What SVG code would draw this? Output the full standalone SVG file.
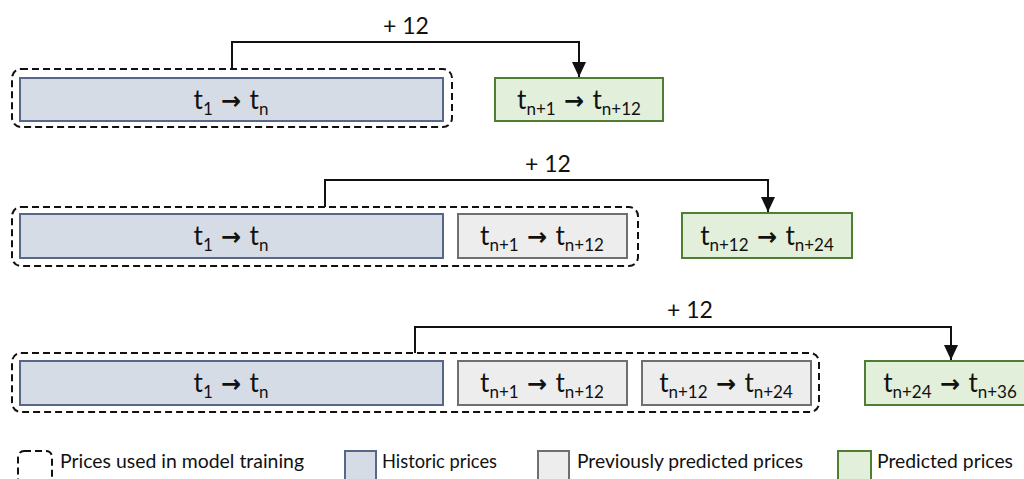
<svg xmlns="http://www.w3.org/2000/svg" width="1024" height="479" viewBox="0 0 1024 479">
  <style>
    text { font-family: Lato, "Liberation Sans", sans-serif; fill: #111; }
    .lbl { font-size: 26px; text-anchor: middle; }
    .sub { font-size: 17px; }
    .arr { font-family: "DejaVu Sans", sans-serif; font-size: 24px; font-weight: bold; }
    .step { font-size: 23px; text-anchor: middle; }
    .leg { font-size: 20px; }
    .train { fill: none; stroke: #111; stroke-width: 2; stroke-dasharray: 7 4; }
    .hist { fill: #d6dce5; stroke: #56678a; stroke-width: 2; }
    .prev { fill: #ededed; stroke: #6f6f6f; stroke-width: 2; }
    .pred { fill: #e2efda; stroke: #4f7d31; stroke-width: 2; }
    .conn { fill: none; stroke: #111; stroke-width: 2; }
  </style>
  <defs>
    <marker id="head" markerUnits="userSpaceOnUse" markerWidth="16" markerHeight="16" refX="15" refY="7" orient="auto">
      <path d="M0,0 L15,7 L0,14 Z" fill="#111"/>
    </marker>
  </defs>

  <!-- connectors: each step forecasts 12 further periods -->
  <g id="connectors">
    <path class="conn" d="M232,68 V42 H579 V77" marker-end="url(#head)"/>
    <text class="step" x="406" y="34">+ 12</text>
    <path class="conn" d="M325,207 V180 H768 V212" marker-end="url(#head)"/>
    <text class="step" x="548" y="172">+ 12</text>
    <path class="conn" d="M415,353 V327 H951 V360" marker-end="url(#head)"/>
    <text class="step" x="690" y="318">+ 12</text>
  </g>

  <!-- row 1 -->
  <g id="train1"><rect class="train" x="12" y="69" width="440" height="58" rx="9"/></g>
  <g id="hist1">
    <rect class="hist" x="20" y="78" width="423" height="43"/>
    <text class="lbl" x="231" y="109">t<tspan class="sub" dy="6">1</tspan><tspan class="arr" dy="-6"> → </tspan>t<tspan class="sub" dy="6">n</tspan></text>
  </g>
  <g id="pred1">
    <rect class="pred" x="495" y="78" width="168" height="43"/>
    <text class="lbl" x="579" y="109">t<tspan class="sub" dy="6">n+1</tspan><tspan class="arr" dy="-6"> → </tspan>t<tspan class="sub" dy="6">n+12</tspan></text>
  </g>

  <!-- row 2 -->
  <g id="train2"><rect class="train" x="12" y="207" width="626" height="59" rx="9"/></g>
  <g id="hist2">
    <rect class="hist" x="20" y="214" width="423" height="44"/>
    <text class="lbl" x="231" y="245">t<tspan class="sub" dy="6">1</tspan><tspan class="arr" dy="-6"> → </tspan>t<tspan class="sub" dy="6">n</tspan></text>
  </g>
  <g id="prev2">
    <rect class="prev" x="458" y="214" width="169" height="44"/>
    <text class="lbl" x="542" y="245">t<tspan class="sub" dy="6">n+1</tspan><tspan class="arr" dy="-6"> → </tspan>t<tspan class="sub" dy="6">n+12</tspan></text>
  </g>
  <g id="pred2">
    <rect class="pred" x="682" y="213" width="170" height="45"/>
    <text class="lbl" x="767" y="245">t<tspan class="sub" dy="6">n+12</tspan><tspan class="arr" dy="-6"> → </tspan>t<tspan class="sub" dy="6">n+24</tspan></text>
  </g>

  <!-- row 3 -->
  <g id="train3"><rect class="train" x="12" y="353" width="807" height="59" rx="9"/></g>
  <g id="hist3">
    <rect class="hist" x="20" y="361" width="423" height="44"/>
    <text class="lbl" x="231" y="392">t<tspan class="sub" dy="6">1</tspan><tspan class="arr" dy="-6"> → </tspan>t<tspan class="sub" dy="6">n</tspan></text>
  </g>
  <g id="prev3a">
    <rect class="prev" x="458" y="361" width="169" height="44"/>
    <text class="lbl" x="542" y="392">t<tspan class="sub" dy="6">n+1</tspan><tspan class="arr" dy="-6"> → </tspan>t<tspan class="sub" dy="6">n+12</tspan></text>
  </g>
  <g id="prev3b">
    <rect class="prev" x="642" y="361" width="169" height="44"/>
    <text class="lbl" x="726" y="392">t<tspan class="sub" dy="6">n+12</tspan><tspan class="arr" dy="-6"> → </tspan>t<tspan class="sub" dy="6">n+24</tspan></text>
  </g>
  <g id="pred3">
    <rect class="pred" x="865" y="361" width="170" height="44"/>
    <text class="lbl" x="950" y="392">t<tspan class="sub" dy="6">n+24</tspan><tspan class="arr" dy="-6"> → </tspan>t<tspan class="sub" dy="6">n+36</tspan></text>
  </g>

  <!-- legend -->
  <g id="legend">
    <rect class="train" x="18" y="451" width="34" height="40" rx="6"/>
    <text class="leg" x="60" y="468" textLength="244" lengthAdjust="spacingAndGlyphs">Prices used in model training</text>
    <rect class="hist" x="345" y="451" width="31" height="40"/>
    <text class="leg" x="382" y="468" textLength="115" lengthAdjust="spacingAndGlyphs">Historic prices</text>
    <rect class="prev" x="538" y="451" width="31" height="40"/>
    <text class="leg" x="577" y="468" textLength="226" lengthAdjust="spacingAndGlyphs">Previously predicted prices</text>
    <rect class="pred" x="838" y="451" width="33" height="40"/>
    <text class="leg" x="877" y="468" textLength="136" lengthAdjust="spacingAndGlyphs">Predicted prices</text>
  </g>
</svg>
